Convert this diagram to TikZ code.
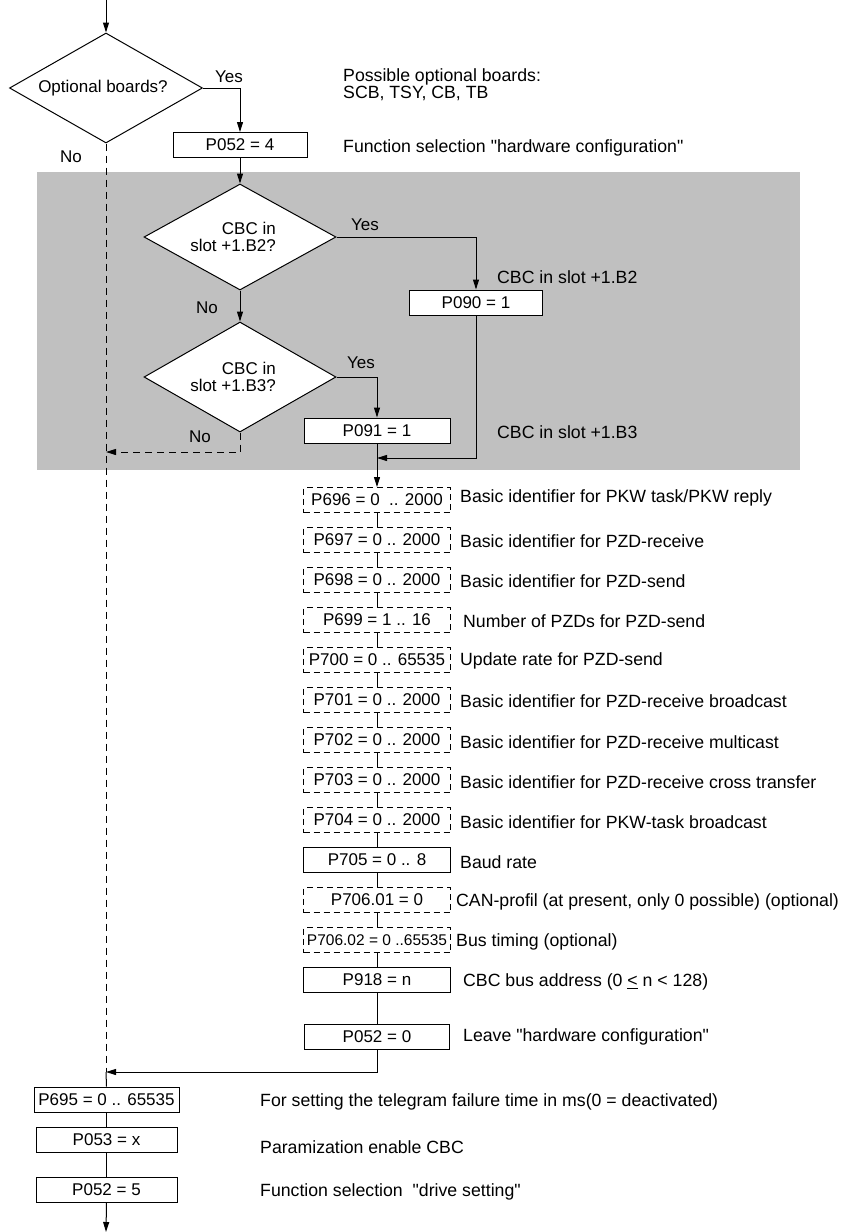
\documentclass[tikz,border=0pt]{standalone}
\usepackage{fontspec}
\setmainfont{Liberation Sans}
\usetikzlibrary{arrows.meta,shapes.geometric,calc}
\definecolor{areagrey}{RGB}{192,192,192}
\newcommand{\qq}{\textquotedbl}
\begin{document}
\begin{tikzpicture}[x=1pt,y=-1pt,
  every node/.style={font=\fontsize{17}{17}\selectfont},
  box/.style={draw,fill=white,line width=1pt,minimum height=25pt,inner sep=0pt},
  dbox/.style={box,dash pattern=on 6pt off 4pt},
  dec/.style={diamond,draw,fill=white,line width=1pt,inner sep=0pt},
  arr/.style={-{Triangle[length=10pt,width=6pt]},line width=1pt},
  ln/.style={line width=1pt},
  nodash/.style={line width=1pt,dash pattern=on 7pt off 5pt},
  desc/.style={anchor=west,inner sep=0pt,font=\fontsize{17.7}{17}\selectfont},
  lbl/.style={inner sep=0pt}]
\useasboundingbox (0,0) rectangle (851,1232);
% shaded area
\fill[areagrey] (37,172) rectangle (800,470);

% top decision
\coordinate (top) at (106,0);
\node[dec,minimum width=193pt,minimum height=110pt] (d1) at (106,88) {};
\node[lbl] (t1) at (103,88) {Optional boards?};
\node[box,minimum width=134pt] (b1) at (240,145) {P052 = 4};
\node[lbl] (y1) at (229,77) {Yes};
\node[lbl] (n1) at (71,157) {No};
\node[desc,align=left,font=\fontsize{17.7}{15}\selectfont] (c1) at (343,85) {Possible optional boards:\\SCB, TSY, CB, TB};
\node[desc] (c2) at (343,148) {Function selection \qq hardware configuration\qq};

% grey block
\node[dec,minimum width=192pt,minimum height=106pt] (d2) at (240,237) {};
\node[lbl,align=right,anchor=east] (t2) at (276,237) {CBC in\\slot +1.B2?};
\node[dec,minimum width=192pt,minimum height=110pt] (d3) at (240,377) {};
\node[lbl,align=right,anchor=east] (t3) at (276,377) {CBC in\\slot +1.B3?};
\node[box,minimum width=133pt] (b2) at (476,302.5) {P090 = 1};
\node[box,minimum width=146pt] (b3) at (377,430.5) {P091 = 1};
\node[lbl] (y2) at (365,225) {Yes};
\node[lbl] (n2) at (207,308) {No};
\node[lbl] (y3) at (361,363) {Yes};
\node[lbl] (n3) at (200,437) {No};
\node[desc] (c3) at (497,277) {CBC in slot +1.B2};
\node[desc] (c4) at (497,432) {CBC in slot +1.B3};

% parameter column
\node[dbox,minimum width=147pt] (p696) at (377,500) {P696 = 0\ \ .. 2000};
\node[dbox,minimum width=147pt] (p697) at (377,540) {P697 = 0 .. 2000};
\node[dbox,minimum width=147pt] (p698) at (377,580) {P698 = 0 .. 2000};
\node[dbox,minimum width=147pt] (p699) at (377,620) {P699 = 1 .. 16};
\node[dbox,minimum width=147pt] (p700) at (377,660) {P700 = 0 .. 65535};
\node[dbox,minimum width=147pt] (p701) at (377,700) {P701 = 0 .. 2000};
\node[dbox,minimum width=147pt] (p702) at (377,740) {P702 = 0 .. 2000};
\node[dbox,minimum width=147pt] (p703) at (377,780) {P703 = 0 .. 2000};
\node[dbox,minimum width=147pt] (p704) at (377,820) {P704 = 0 .. 2000};
\node[box,minimum width=147pt] (p705) at (377,860) {P705 = 0 .. 8};
\node[dbox,minimum width=147pt] (p7061) at (377,900) {P706.01 = 0};
\node[dbox,minimum width=147pt,font=\fontsize{15.5}{17}\selectfont] (p7062) at (377,940) {P706.02 = 0 ..65535};
\node[box,minimum width=147pt] (p918) at (377,980) {P918 = n};
\node[box,minimum width=145pt] (p0520) at (377,1036.5) {P052 = 0};

\node[desc] (e1) at (460,498) {Basic identifier for PKW task/PKW reply};
\node[desc] (e2) at (460,541) {Basic identifier for PZD-receive};
\node[desc] (e3) at (460,581) {Basic identifier for PZD-send};
\node[desc] (e4) at (463,621) {Number of PZDs for PZD-send};
\node[desc] (e5) at (460,661) {Update rate for PZD-send};
\node[desc] (e6) at (460,701) {Basic identifier for PZD-receive broadcast};
\node[desc] (e7) at (460,742) {Basic identifier for PZD-receive multicast};
\node[desc] (e8) at (460,782) {Basic identifier for PZD-receive cross transfer};
\node[desc] (e9) at (460,822) {Basic identifier for PKW-task broadcast};
\node[desc] (e10) at (460,862) {Baud rate};
\node[desc] (e11) at (456,902) {CAN-profil (at present, only 0 possible) (optional)};
\node[desc] (e12) at (456,942) {Bus timing (optional)};
\node[desc] (e13) at (463,982) {CBC bus address (0 \underline{<} n < 128)};
\node[desc] (e14) at (463,1037) {Leave \qq hardware configuration\qq};

% bottom column
\node[box,minimum width=145pt] (p695) at (106.5,1099.5) {P695 = 0 .. 65535};
\node[box,minimum width=141pt] (p053) at (106.5,1139.5) {P053 = x};
\node[box,minimum width=141pt] (p0525) at (106.5,1189.5) {P052 = 5};
\node[desc] (f1) at (260,1102) {For setting the telegram failure time in ms(0 = deactivated)};
\node[desc] (f2) at (260,1147) {Paramization enable CBC};
\node[desc] (f3) at (260,1192) {Function selection\ \ \qq drive setting\qq};

% coordinates
\coordinate (nojoin) at (106,452);
\coordinate (m1) at (377,458);
\coordinate (m2) at (106,1072);
\coordinate (bot) at (106,1232);

% connectors
\draw[arr] (top) -- (d1.north);
\draw[arr] (d1.east) -| (b1.north);
\draw[arr] (b1.south) -- (d2.north);
\draw[arr] (d2.east) -| (b2.north);
\draw[arr] (d2.south) -- (d3.north);
\draw[arr] (d3.east) -| (b3.north);
\draw[-{Triangle[length=10pt,width=6pt]},nodash] (d3.south) |- (nojoin);
\draw[arr] (b3.south) -- (p696.north);
\draw[arr] (b2.south) |- (m1);
\foreach \a/\b in {p696/p697,p697/p698,p698/p699,p699/p700,p700/p701,p701/p702,p702/p703,p703/p704,p704/p705,p705/p7061,p7061/p7062,p7062/p918,p918/p0520}
  \draw[ln] (\a.south) -- (\b.north);
\draw[nodash] (d1.south) -- (m2);
\draw[arr] (p0520.south) |- (m2);
\draw[ln] (m2) -- (p695.north);
\draw[ln] (p695.south) -- (p053.north);
\draw[ln] (p053.south) -- (p0525.north);
\draw[arr] (p0525.south) -- (bot);
\end{tikzpicture}
\end{document}
